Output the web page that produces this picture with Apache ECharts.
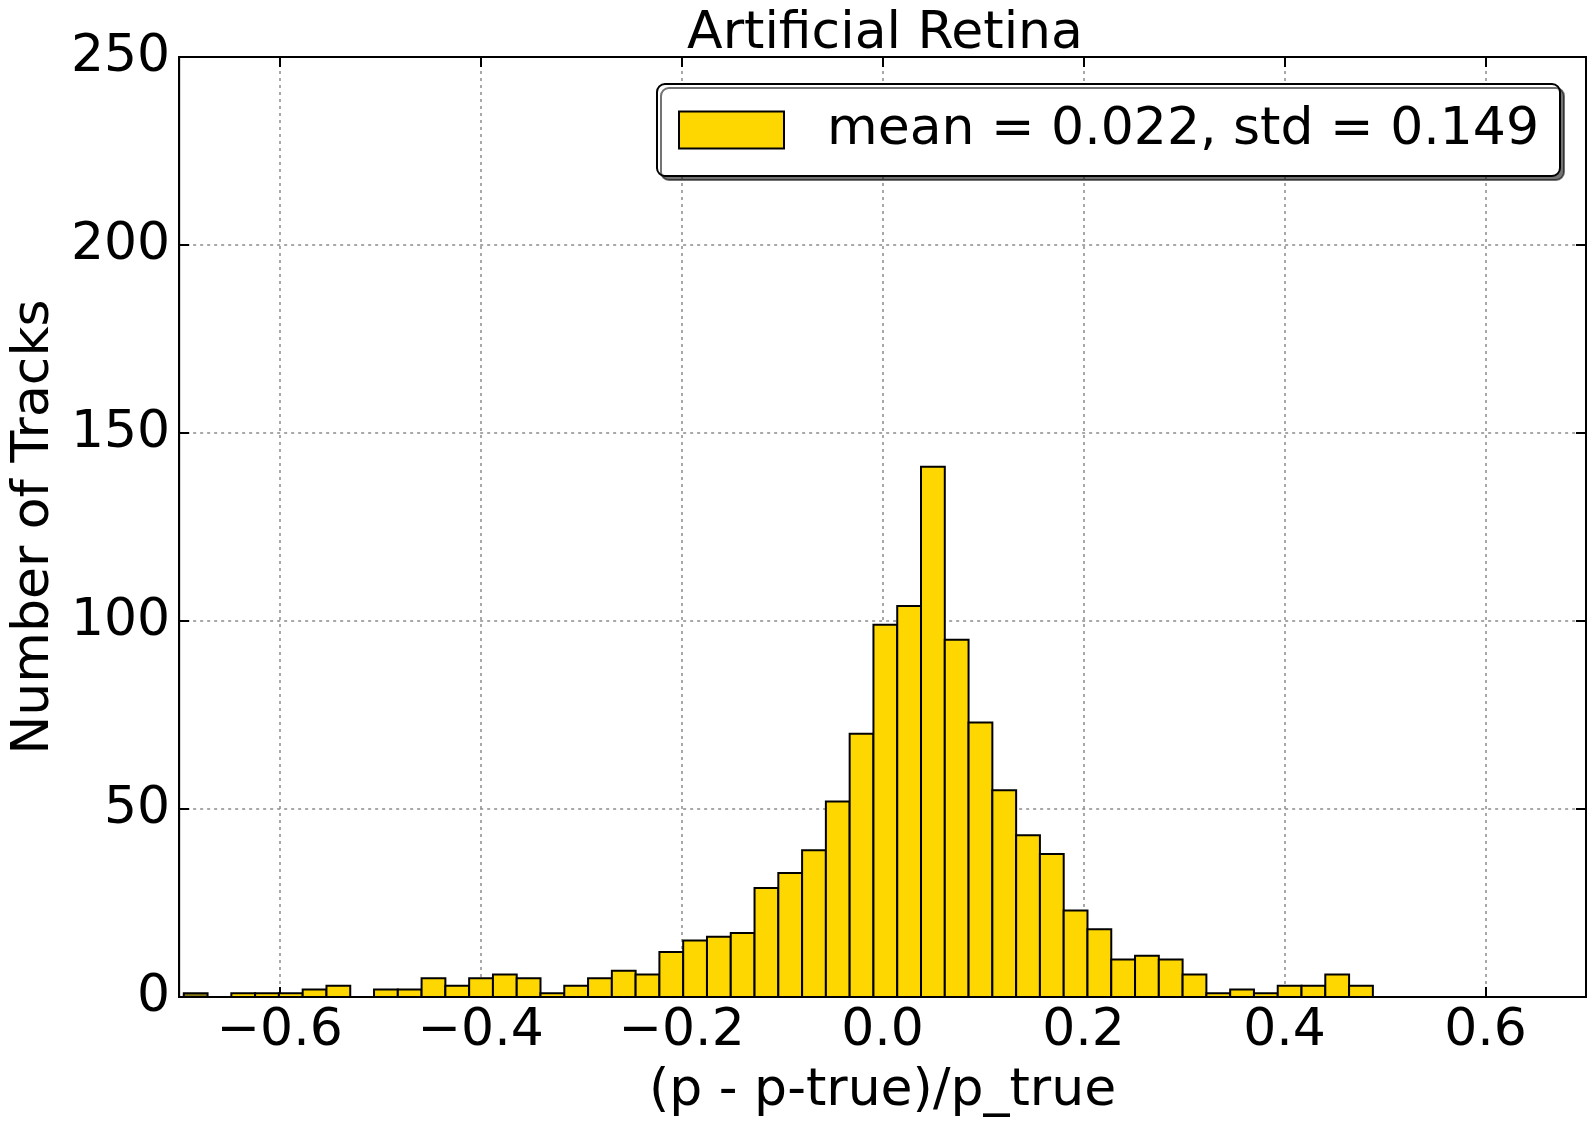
<!DOCTYPE html>
<html>
<head>
<meta charset="utf-8">
<script src="https://cdn.jsdelivr.net/npm/echarts@6/dist/echarts.min.js"></script>
<style>
  html, body { margin: 0; padding: 0; background: #fff; }
  #chart { width: 1593px; height: 1122px; }
</style>
</head>
<body>
<div id="chart"></div>
<script>
// ---- data ----
const titleText = 'Artificial Retina';
const xName = '(p - p-true)/p_true';
const yName = 'Number of Tracks';
const seriesName = 'mean = 0.022, std = 0.149';
const binStart = -0.6954;      // left edge of first bin
const binWidth = 0.023666;     // 50 equal bins
const counts = [1, 0, 1, 1, 1, 2, 3, 0, 2, 2,
                5, 3, 5, 6, 5, 1, 3, 5, 7, 6,
                12, 15, 16, 17, 29, 33, 39, 52, 70, 99,
                104, 141, 95, 73, 55, 43, 38, 23, 18, 10,
                11, 10, 6, 1, 2, 1, 3, 3, 6, 3];
const xTicks = [-0.6, -0.4, -0.2, 0.0, 0.2, 0.4, 0.6];
const yTicks = [0, 50, 100, 150, 200, 250];

const histData = counts.map((c, i) => [binStart + i * binWidth, binStart + (i + 1) * binWidth, c]);

const FONT = 'DejaVu Sans';
const FS = 52;
const gridLine = { show: true, lineStyle: { color: '#8c8c8c', width: 1.5, type: [3, 4] } };

const chart = echarts.init(document.getElementById('chart'), null, { renderer: 'canvas' });
chart.setOption({
  animation: false,
  backgroundColor: '#fff',
  textStyle: { fontFamily: FONT, color: '#000' },
  title: {
    text: titleText,
    left: 880, top: 0, textAlign: 'center',
    textStyle: { fontFamily: FONT, fontSize: FS, fontWeight: 'normal', color: '#000', lineHeight: 58 }
  },
  legend: {
    data: [seriesName],
    right: 33, top: 84,
    orient: 'horizontal',
    backgroundColor: '#fff',
    borderColor: '#000', borderWidth: 2, borderRadius: 8,
    padding: [20, 21, 20, 21],
    shadowColor: 'rgba(0,0,0,0.55)', shadowOffsetX: 4, shadowOffsetY: 4, shadowBlur: 0,
    itemWidth: 105, itemHeight: 37,
    icon: 'rect',
    itemStyle: { color: '#FFD700', borderColor: '#000', borderWidth: 2 },
    textStyle: { fontFamily: FONT, fontSize: FS, color: '#000', lineHeight: 52, padding: [0, 0, 0, 38] }
  },
  grid: { left: 177, top: 57, width: 1409, height: 940, show: true, borderColor: '#000', borderWidth: 2, containLabel: false },
  xAxis: [{
    type: 'value', min: -0.7, max: 0.7,
    name: xName, nameLocation: 'middle', nameGap: 68,
    nameTextStyle: { fontFamily: FONT, fontSize: FS, color: '#000' },
    axisLine: { show: true, onZero: false, lineStyle: { color: '#000', width: 2 } },
    axisTick: { show: true, inside: true, length: 10, customValues: xTicks, lineStyle: { color: '#000', width: 2 } },
    axisLabel: { customValues: xTicks, margin: 8, fontFamily: FONT, fontSize: FS, color: '#000',
      formatter: v => (v < 0 ? '\u2212' : '') + Math.abs(v).toFixed(1) },
    splitLine: gridLine
  }, {
    type: 'value', min: -0.7, max: 0.7, position: 'top',
    axisLine: { show: true, onZero: false, lineStyle: { color: '#000', width: 2 } },
    axisTick: { show: true, inside: true, length: 10, customValues: xTicks, lineStyle: { color: '#000', width: 2 } },
    axisLabel: { show: false },
    splitLine: { show: false }
  }],
  yAxis: [{
    type: 'value', min: 0, max: 250, interval: 50, position: 'left',
    name: yName, nameLocation: 'middle', nameGap: 115, nameRotate: 90,
    nameTextStyle: { fontFamily: FONT, fontSize: FS, color: '#000' },
    axisLine: { show: true, onZero: false, lineStyle: { color: '#000', width: 2 } },
    axisTick: { show: true, inside: true, length: 10, lineStyle: { color: '#000', width: 2 } },
    axisLabel: { margin: 9, fontFamily: FONT, fontSize: FS, color: '#000' },
    splitLine: gridLine
  }, {
    type: 'value', min: 0, max: 250, interval: 50, position: 'right',
    axisLine: { show: true, onZero: false, lineStyle: { color: '#000', width: 2 } },
    axisTick: { show: true, inside: true, length: 10, lineStyle: { color: '#000', width: 2 } },
    axisLabel: { show: false },
    splitLine: { show: false }
  }],
  series: [{
    name: seriesName,
    type: 'custom',
    xAxisIndex: 0, yAxisIndex: 0,
    itemStyle: { color: '#FFD700', borderColor: '#000', borderWidth: 2 },
    encode: { x: [0, 1], y: 2 },
    data: histData,
    renderItem: function (params, api) {
      const x0 = api.value(0), x1 = api.value(1), c = api.value(2);
      if (!c) return null;
      const pTop = api.coord([x0, c]);
      const pBot = api.coord([x1, 0]);
      return {
        type: 'rect',
        shape: { x: pTop[0], y: pTop[1], width: pBot[0] - pTop[0], height: pBot[1] - pTop[1] },
        style: { fill: params.dataIndex === 0 ? '#8a7a14' : '#FFD700', stroke: '#000', lineWidth: 2 }
      };
    }
  }]
});
</script>
</body>
</html>
